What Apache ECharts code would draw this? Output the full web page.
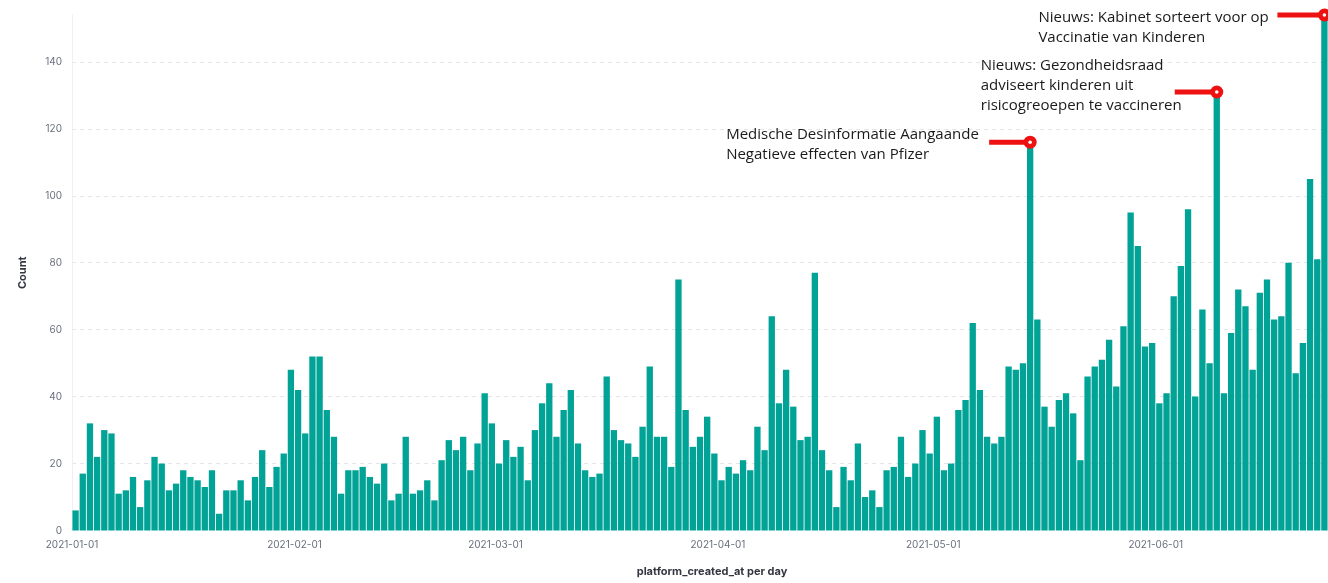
<!DOCTYPE html>
<html>
<head>
<meta charset="utf-8">
<script src="https://cdn.jsdelivr.net/npm/echarts@6/dist/echarts.min.js"></script>
<style>
html,body{margin:0;padding:0;background:#ffffff;}
#chart{width:1328px;height:583px;}
</style>
</head>
<body>
<div id="chart"></div>
<script>
// ---- data ----
const firstDay = '2021-01-01';          // one bar per day from this date
const monthStarts = ['2021-01-01', '2021-02-01', '2021-03-01', '2021-04-01', '2021-05-01', '2021-06-01'];
const counts = [
  // January
  6, 17, 32, 22, 30, 29, 11, 12, 16, 7, 15, 22, 20, 12, 14, 18, 16, 15, 13, 18, 5, 12,
  12, 15, 9, 16, 24, 13, 19, 23, 48,
  // February
  42, 29, 52, 52, 36, 28, 11, 18, 18, 19, 16, 14, 20, 9, 11, 28, 11, 12, 15, 9, 21, 27,
  24, 28, 18, 26, 41, 32,
  // March
  20, 27, 22, 25, 15, 30, 38, 44, 28, 36, 42, 26, 18, 16, 17, 46, 30, 27, 26, 22, 31, 49,
  28, 28, 19, 75, 36, 25, 28, 34, 23,
  // April
  15, 19, 17, 21, 18, 31, 24, 64, 38, 48, 37, 27, 28, 77, 24, 18, 7, 19, 15, 26, 10, 12,
  7, 18, 19, 28, 16, 20, 30, 23,
  // May
  34, 18, 20, 36, 39, 62, 42, 28, 26, 28, 49, 48, 50, 116, 63, 37, 31, 39, 41, 35, 21, 46,
  49, 51, 57, 43, 61, 95, 85, 55, 56,
  // June
  38, 41, 70, 79, 96, 40, 66, 50, 131, 41, 59, 72, 67, 48, 71, 75, 63, 64, 80, 47, 56, 105,
  81, 154
];
const annotationDays = ['2021-05-14', '2021-06-09', '2021-06-24'];
const annotationTexts = [
  ['Medische Desinformatie Aangaande', 'Negatieve effecten van Pfizer'],
  ['Nieuws: Gezondheidsraad', 'adviseert kinderen uit', 'risicogreoepen te vaccineren'],
  ['Nieuws: Kabinet sorteert voor op', 'Vaccinatie van Kinderen']
];

// ---- layout / style (not data) ----
const annotationLayout = [
  { textDx: -304, textDy: -17.5, lineLen: 41 },
  { textDx: -236, textDy: -36, lineLen: 42 },
  { textDx: -286, textDy: -7, lineLen: 47 }
];
const DAY = 86400000;

function utcDay(s) { const p = s.split('-').map(Number); return Date.UTC(p[0], p[1] - 1, p[2]); }
function dayIndex(s) { return Math.round((utcDay(s) - utcDay(firstDay)) / DAY); }

// each bar spans [day, day + 1) on a day-number axis
const seriesData = counts.map(function (v, i) { return [i + 0.5, v]; });
const tickValues = monthStarts.map(dayIndex);

const chart = echarts.init(document.getElementById('chart'), null, { renderer: 'canvas' });
chart.setOption({
  animation: false,
  backgroundColor: '#ffffff',
  grid: { left: 72, right: 0, top: 15, bottom: 52.5, containLabel: false },
  xAxis: {
    type: 'value',
    min: 0,
    max: counts.length,
    name: 'platform_created_at per day',
    nameLocation: 'middle',
    nameGap: 36,
    nameTextStyle: { fontFamily: 'Inter', fontWeight: 'bold', fontSize: 11, color: '#343741', padding: [0, 0, 0, 24] },
    axisLine: { show: false },
    axisTick: { show: false },
    splitLine: { show: false },
    axisLabel: {
      customValues: tickValues,
      margin: 9,
      fontFamily: 'Inter',
      fontSize: 10,
      color: '#69707d',
      formatter: function (v) {
        const k = tickValues.indexOf(Math.round(v));
        return k >= 0 ? monthStarts[k] : '';
      }
    }
  },
  yAxis: {
    type: 'value',
    min: 0,
    max: 'dataMax',
    interval: 20,
    name: 'Count',
    nameLocation: 'middle',
    nameGap: 44,
    nameRotate: 90,
    nameTextStyle: { fontFamily: 'Inter', fontWeight: 'bold', fontSize: 11, color: '#343741' },
    axisLine: { show: true, lineStyle: { color: '#eef0f3', width: 1 } },
    axisTick: { show: false },
    axisLabel: { showMaxLabel: false, margin: 10, fontFamily: 'Inter', fontSize: 10, color: '#69707d' },
    splitLine: { show: true, showMaxLine: false, showMinLine: false, lineStyle: { color: '#e3e5e9', type: [4, 4], width: 1 } }
  },
  series: [{
    type: 'bar',
    data: seriesData,
    barWidth: '88%',
    itemStyle: { color: '#00a396' }
  }]
});

// annotations anchored to the bar tops
const graphics = [];
annotationDays.forEach(function (ds, k) {
  const idx = dayIndex(ds);
  const pt = chart.convertToPixel({ seriesIndex: 0 }, seriesData[idx]);
  const L = annotationLayout[k];
  graphics.push({
    type: 'line', z: 100,
    shape: { x1: pt[0] - L.lineLen, y1: pt[1], x2: pt[0], y2: pt[1] },
    style: { stroke: '#ee1111', lineWidth: 5 }
  });
  graphics.push({
    type: 'circle', z: 101,
    shape: { cx: pt[0], cy: pt[1], r: 6.5 },
    style: { fill: '#ee1111' }
  });
  graphics.push({
    type: 'circle', z: 102,
    shape: { cx: pt[0], cy: pt[1], r: 1.8 },
    style: { fill: '#ffffff' }
  });
  graphics.push({
    type: 'text', z: 103,
    x: pt[0] + L.textDx, y: pt[1] + L.textDy,
    style: {
      text: annotationTexts[k].join('\n'),
      font: '15px "Open Sans"',
      fill: '#1a1a1a',
      lineHeight: 20,
      align: 'left',
      verticalAlign: 'top'
    }
  });
});
chart.setOption({ graphic: graphics });
</script>
</body>
</html>
